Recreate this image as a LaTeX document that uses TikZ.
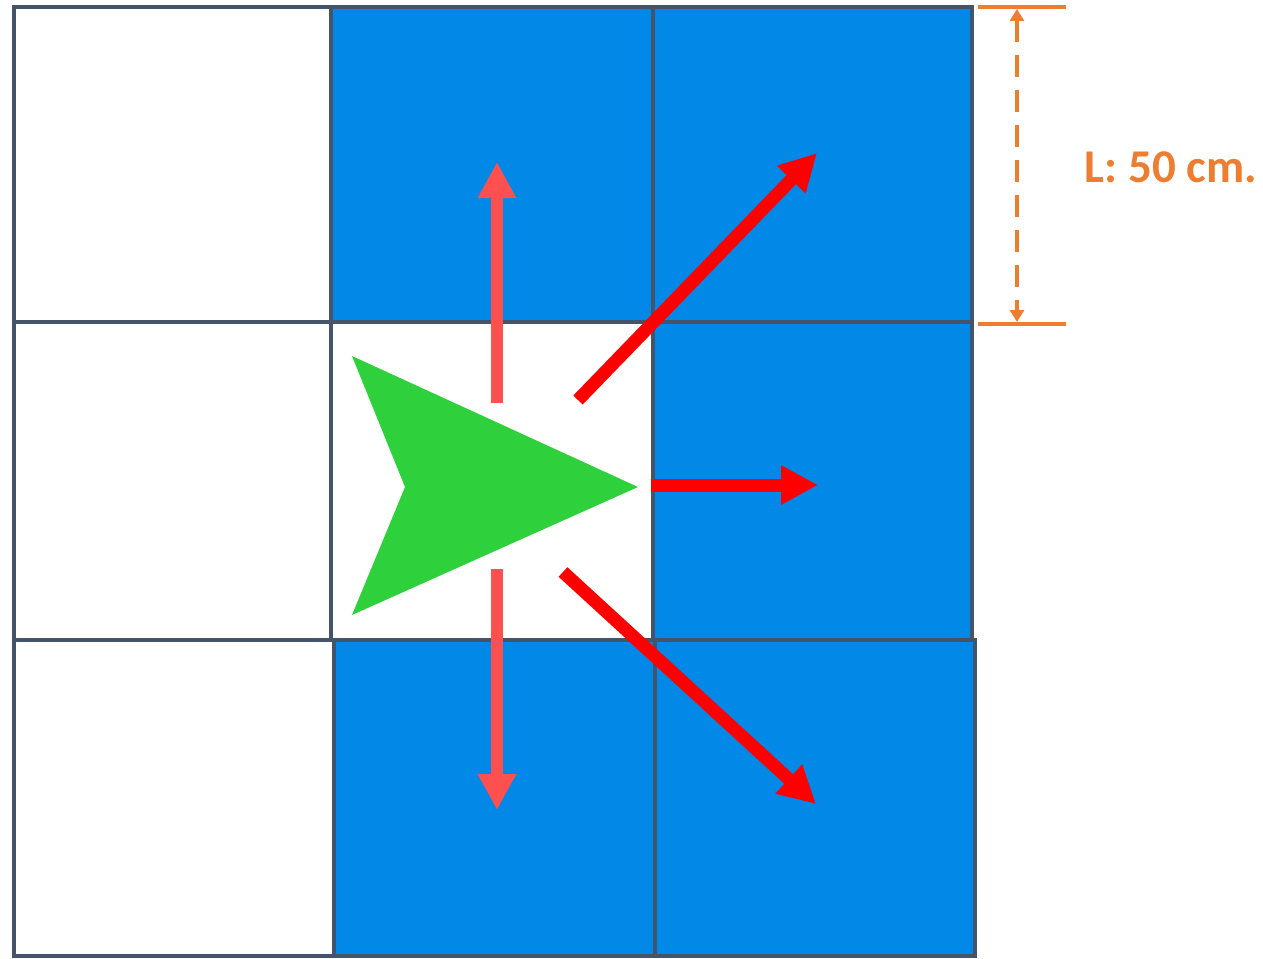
\documentclass[tikz,border=0pt]{standalone}
\usepackage{fontspec}
\setmainfont{Carlito}
\usetikzlibrary{arrows.meta}
\definecolor{gridc}{HTML}{44546A}
\definecolor{bluec}{HTML}{0288E6}
\definecolor{greenc}{HTML}{2ED13C}
\definecolor{lightred}{HTML}{FF5050}
\definecolor{redc}{HTML}{FF0000}
\definecolor{orangec}{HTML}{ED7D31}
\tikzset{
  cell/.style={draw=gridc, line width=3.8pt},
  bluecell/.style={cell, fill=bluec},
  whitecell/.style={cell, fill=white},
  softarrow/.style={draw=lightred, line width=12pt, -{Triangle[length=36pt,width=36pt]}},
  hardarrow/.style={draw=redc, line width=13pt, -{Triangle[length=37pt,width=37pt]}},
  dimline/.style={draw=orangec, line width=3.5pt},
  dimarrow/.style={draw=orangec, line width=3.5pt, dash pattern=on 22pt off 13pt,
    {Triangle[length=12pt,width=14pt]}-{Triangle[length=12pt,width=14pt]}},
  dimlabel/.style={text=orangec, font=\bfseries\fontsize{47}{56}\selectfont, inner sep=0pt}
}
\begin{document}
\begin{tikzpicture}[x=1pt,y=-1pt]
\useasboundingbox (0,0) rectangle (1263,958);
% grid cells
\path[whitecell] (14,7) rectangle (331,322);
\path[bluecell] (331,7) rectangle (653,322);
\path[bluecell] (653,7) rectangle (972,322);
\path[whitecell] (14,322) rectangle (331,640);
\path[whitecell] (331,322) rectangle (653,640);
\path[bluecell] (653,322) rectangle (972,640);
\path[whitecell] (14,640) rectangle (334,956);
\path[bluecell] (334,640) rectangle (655,956);
\path[bluecell] (655,640) rectangle (975,956);
% green arrow
\coordinate (gtop) at (352,356);
\coordinate (gtip) at (638,487);
\coordinate (gbot) at (352,615);
\coordinate (gnotch) at (405,487);
\fill[greenc] (gtop) -- (gtip) -- (gbot) -- (gnotch) -- cycle;
% movement arrows
\coordinate (upS) at (497,403);
\coordinate (upE) at (497,162);
\coordinate (dnS) at (497,569);
\coordinate (dnE) at (497,810);
\coordinate (neS) at (578,400);
\coordinate (neE) at (817,153);
\coordinate (eS) at (651,485);
\coordinate (eE) at (818,485);
\coordinate (seS) at (563,572);
\coordinate (seE) at (816,804);
\draw[softarrow] (upS) -- (upE);
\draw[softarrow] (dnS) -- (dnE);
\draw[hardarrow] (neS) -- (neE);
\draw[hardarrow] (eS) -- (eE);
\draw[hardarrow] (seS) -- (seE);
% dimension
\coordinate (dt1) at (978,7);
\coordinate (dt2) at (1066,7);
\coordinate (db1) at (978,324);
\coordinate (db2) at (1066,324);
\draw[dimline] (dt1) -- (dt2);
\draw[dimline] (db1) -- (db2);
\coordinate (da) at (1017,9);
\coordinate (db) at (1017,322);
\draw[dimarrow] (da) -- (db);
\node[dimlabel] (lab) at (1171,167) {L: 50 cm.};
\end{tikzpicture}
\end{document}
